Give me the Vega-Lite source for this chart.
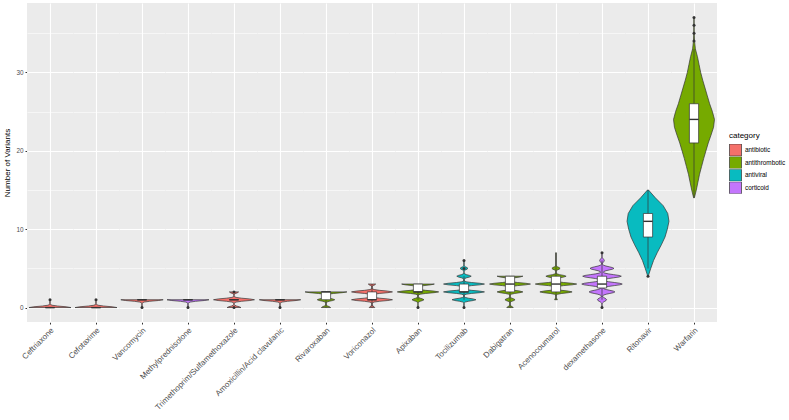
{
  "$schema": "https://vega.github.io/schema/vega-lite/v6.json",
  "padding": {"left": 3, "top": 3, "right": 0, "bottom": 0},
  "background": "white",
  "config": {
    "font": "Liberation Sans",
    "view": {"stroke": null, "fill": "#EBEBEB"}
  },
  "data": {
    "values": [
      {"drug": "Ceftriaxone", "category": "antibiotic", "lo": 0, "q1": 0, "med": 0, "q3": 0, "hi": 0, "out": [1],
       "v": [0, 0.1, 0.2, 0.3, 0.4, 0.5, 0.8, 0.9, 1],
       "w": [0.456, 0.353, 0.164, 0.046, 0.01, 0.004, 0.005, 0.008, 0.01]},
      {"drug": "Cefotaxime", "category": "antibiotic", "lo": 0, "q1": 0, "med": 0, "q3": 0, "hi": 0, "out": [1],
       "v": [0, 0.1, 0.2, 0.3, 0.4, 0.5, 0.8, 0.9, 1],
       "w": [0.456, 0.353, 0.164, 0.046, 0.01, 0.004, 0.005, 0.008, 0.01]},
      {"drug": "Vancomycin", "category": "antibiotic", "lo": 1, "q1": 1, "med": 1, "q3": 1, "hi": 1, "out": [0],
       "v": [0, 0.1, 0.2, 0.5, 0.6, 0.7, 0.8, 0.9, 1],
       "w": [0.01, 0.008, 0.005, 0.004, 0.01, 0.046, 0.166, 0.357, 0.46]},
      {"drug": "Methylprednisolone", "category": "corticoid", "lo": 1, "q1": 1, "med": 1, "q3": 1, "hi": 1, "out": [0],
       "v": [0, 0.1, 0.2, 0.5, 0.6, 0.7, 0.8, 0.9, 1],
       "w": [0.01, 0.008, 0.005, 0.004, 0.01, 0.046, 0.164, 0.353, 0.456]},
      {"drug": "Trimethoprim/Sulfamethoxazole", "category": "antibiotic", "lo": 1, "q1": 1, "med": 1, "q3": 1, "hi": 1, "out": [0, 2],
       "v": [0, 0.1, 0.2, 0.3, 0.4, 0.5, 0.6, 0.7, 0.8, 0.9, 1, 1.1, 1.2, 1.3, 1.4, 1.5, 1.6, 1.7, 1.8, 1.9, 2],
       "w": [0.15, 0.116, 0.054, 0.015, 0.004, 0.004, 0.008, 0.045, 0.16, 0.345, 0.445, 0.345, 0.16, 0.045, 0.008, 0.004, 0.004, 0.01, 0.036, 0.078, 0.1]},
      {"drug": "Amoxicillin/Acid clavulanic", "category": "antibiotic", "lo": 1, "q1": 1, "med": 1, "q3": 1, "hi": 1, "out": [0],
       "v": [0, 0.1, 0.2, 0.5, 0.6, 0.7, 0.8, 0.9, 1],
       "w": [0.01, 0.008, 0.005, 0.004, 0.008, 0.045, 0.162, 0.349, 0.45]},
      {"drug": "Rivaroxaban", "category": "antithrombotic", "lo": 0, "q1": 1, "med": 2, "q3": 2, "hi": 2, "out": [],
       "v": [0, 0.1, 0.2, 0.3, 0.4, 0.5, 0.6, 0.7, 0.8, 0.9, 1, 1.1, 1.2, 1.3, 1.4, 1.5, 1.6, 1.7, 1.8, 1.9, 2],
       "w": [0.1, 0.078, 0.036, 0.01, 0.005, 0.004, 0.005, 0.019, 0.068, 0.147, 0.19, 0.147, 0.068, 0.019, 0.005, 0.004, 0.01, 0.046, 0.164, 0.353, 0.455]},
      {"drug": "Voriconazol", "category": "antibiotic", "lo": 0, "q1": 1, "med": 1, "q3": 2, "hi": 3, "out": [],
       "v": [0, 0.1, 0.2, 0.3, 0.4, 0.5, 0.6, 0.7, 0.8, 0.9, 1, 1.1, 1.2, 1.3, 1.4, 1.5, 1.6, 1.7, 1.8, 1.9, 2, 2.1, 2.2, 2.3, 2.4, 2.5, 2.6, 2.7, 2.8, 2.9, 3],
       "w": [0.06, 0.047, 0.022, 0.006, 0.004, 0.004, 0.008, 0.045, 0.16, 0.345, 0.445, 0.345, 0.16, 0.045, 0.008, 0.004, 0.008, 0.045, 0.16, 0.345, 0.445, 0.345, 0.16, 0.045, 0.008, 0.004, 0.004, 0.008, 0.029, 0.062, 0.08]},
      {"drug": "Apixaban", "category": "antithrombotic", "lo": 1, "q1": 2, "med": 2, "q3": 3, "hi": 3, "out": [0],
       "v": [0, 0.1, 0.2, 0.3, 0.4, 0.5, 0.6, 0.7, 0.8, 0.9, 1, 1.1, 1.2, 1.3, 1.4, 1.5, 1.6, 1.7, 1.8, 1.9, 2, 2.1, 2.2, 2.3, 2.4, 2.5, 2.6, 2.7, 2.8, 2.9, 3],
       "w": [0.015, 0.012, 0.006, 0.004, 0.004, 0.004, 0.004, 0.013, 0.047, 0.101, 0.13, 0.101, 0.047, 0.013, 0.004, 0.004, 0.008, 0.045, 0.162, 0.349, 0.45, 0.349, 0.162, 0.045, 0.01, 0.004, 0.008, 0.036, 0.128, 0.275, 0.355]},
      {"drug": "Tocilizumab", "category": "antiviral", "lo": 1, "q1": 2, "med": 2, "q3": 3, "hi": 4, "out": [0, 5, 6],
       "v": [0, 0.1, 0.2, 0.5, 0.6, 0.7, 0.8, 0.9, 1, 1.1, 1.2, 1.3, 1.4, 1.5, 1.6, 1.7, 1.8, 1.9, 2, 2.1, 2.2, 2.3, 2.4, 2.5, 2.6, 2.7, 2.8, 2.9, 3, 3.1, 3.2, 3.3, 3.4, 3.5, 3.6, 3.7, 3.8, 3.9, 4, 4.1, 4.2, 4.3, 4.4, 4.5, 4.6, 4.7, 4.8, 4.9, 5, 5.1, 5.2, 5.3, 5.4, 5.8, 5.9, 6],
       "w": [0.01, 0.008, 0.004, 0.004, 0.005, 0.026, 0.094, 0.202, 0.26, 0.202, 0.094, 0.026, 0.005, 0.004, 0.008, 0.045, 0.16, 0.345, 0.445, 0.345, 0.16, 0.045, 0.008, 0.004, 0.008, 0.045, 0.16, 0.345, 0.445, 0.345, 0.16, 0.045, 0.008, 0.004, 0.004, 0.016, 0.057, 0.122, 0.157, 0.122, 0.057, 0.016, 0.004, 0.004, 0.004, 0.009, 0.031, 0.066, 0.085, 0.066, 0.031, 0.009, 0.004, 0.005, 0.008, 0.01]},
      {"drug": "Dabigatran", "category": "antithrombotic", "lo": 0, "q1": 2, "med": 3, "q3": 4, "hi": 4, "out": [],
       "v": [0, 0.1, 0.2, 0.3, 0.4, 0.5, 0.6, 0.7, 0.8, 0.9, 1, 1.1, 1.2, 1.3, 1.4, 1.5, 1.6, 1.7, 1.8, 1.9, 2, 2.1, 2.2, 2.3, 2.4, 2.5, 2.6, 2.7, 2.8, 2.9, 3, 3.1, 3.2, 3.3, 3.4, 3.5, 3.6, 3.7, 3.8, 3.9, 4],
       "w": [0.07, 0.054, 0.025, 0.007, 0.004, 0.004, 0.004, 0.011, 0.04, 0.085, 0.11, 0.085, 0.04, 0.011, 0.004, 0.004, 0.005, 0.028, 0.101, 0.217, 0.28, 0.217, 0.101, 0.028, 0.006, 0.004, 0.008, 0.045, 0.16, 0.345, 0.445, 0.345, 0.16, 0.045, 0.008, 0.004, 0.005, 0.028, 0.101, 0.217, 0.28]},
      {"drug": "Acenocoumarol", "category": "antithrombotic", "lo": 1, "q1": 2, "med": 3, "q3": 4, "hi": 7, "out": [],
       "v": [1, 1.1, 1.2, 1.3, 1.4, 1.5, 1.6, 1.7, 1.8, 1.9, 2, 2.1, 2.2, 2.3, 2.4, 2.5, 2.6, 2.7, 2.8, 2.9, 3, 3.1, 3.2, 3.3, 3.4, 3.5, 3.6, 3.7, 3.8, 3.9, 4, 4.1, 4.2, 4.3, 4.4, 4.5, 4.6, 4.7, 4.8, 4.9, 5, 5.1, 5.2, 5.3, 5.4, 7],
       "w": [0.03, 0.023, 0.011, 0.004, 0.004, 0.004, 0.006, 0.035, 0.126, 0.271, 0.35, 0.271, 0.126, 0.035, 0.008, 0.004, 0.008, 0.045, 0.162, 0.349, 0.45, 0.349, 0.162, 0.045, 0.008, 0.004, 0.004, 0.022, 0.079, 0.171, 0.22, 0.171, 0.079, 0.022, 0.004, 0.004, 0.004, 0.009, 0.032, 0.07, 0.09, 0.07, 0.032, 0.009, 0.004, 0.004]},
      {"drug": "dexamethasone", "category": "corticoid", "lo": 1, "q1": 2.5, "med": 3, "q3": 4, "hi": 6, "out": [0, 7],
       "v": [0, 0.1, 0.2, 0.3, 0.4, 0.5, 0.6, 0.7, 0.8, 0.9, 1, 1.1, 1.2, 1.3, 1.4, 1.5, 1.6, 1.7, 1.8, 1.9, 2, 2.1, 2.2, 2.3, 2.4, 2.5, 2.6, 2.7, 2.8, 2.9, 3, 3.1, 3.2, 3.3, 3.4, 3.5, 3.6, 3.7, 3.8, 3.9, 4, 4.1, 4.2, 4.3, 4.4, 4.5, 4.6, 4.7, 4.8, 4.9, 5, 5.1, 5.2, 5.3, 5.4, 5.5, 5.6, 5.7, 5.8, 5.9, 6, 6.1, 6.2, 6.3, 6.4, 6.5, 6.6, 6.7, 6.8, 6.9, 7],
       "w": [0.01, 0.009, 0.006, 0.004, 0.004, 0.005, 0.014, 0.033, 0.061, 0.088, 0.1, 0.088, 0.061, 0.033, 0.017, 0.017, 0.039, 0.091, 0.17, 0.247, 0.28, 0.247, 0.17, 0.092, 0.043, 0.032, 0.062, 0.144, 0.267, 0.388, 0.44, 0.388, 0.267, 0.144, 0.064, 0.038, 0.062, 0.138, 0.255, 0.37, 0.42, 0.37, 0.255, 0.137, 0.06, 0.03, 0.04, 0.085, 0.158, 0.229, 0.26, 0.229, 0.158, 0.085, 0.036, 0.014, 0.01, 0.017, 0.03, 0.044, 0.05, 0.044, 0.03, 0.016, 0.007, 0.004, 0.004, 0.004, 0.006, 0.009, 0.01]},
      {"drug": "Ritonavir", "category": "antiviral", "lo": 5, "q1": 9, "med": 11, "q3": 12, "hi": 15, "out": [4],
       "v": [4, 5, 6, 7, 8, 9, 10, 11, 12, 13, 14, 15],
       "w": [0.005, 0.06, 0.12, 0.2, 0.29, 0.37, 0.42, 0.456, 0.43, 0.33, 0.16, 0.01]},
      {"drug": "Warfarin", "category": "antithrombotic", "lo": 14, "q1": 21, "med": 24, "q3": 26, "hi": 33, "out": [34, 35, 36, 37],
       "v": [14, 15, 16, 17, 18, 19, 20, 21, 22, 23, 24, 25, 26, 27, 28, 29, 30, 31, 32, 33, 34, 35, 36, 37],
       "w": [0.008, 0.05, 0.085, 0.12, 0.165, 0.21, 0.26, 0.31, 0.37, 0.425, 0.445, 0.4, 0.34, 0.29, 0.24, 0.19, 0.145, 0.11, 0.075, 0.03, 0.012, 0.006, 0.004, 0.004]}
    ]
  },
  "facet": {
    "column": {
      "field": "drug", "type": "nominal", "title": null,
      "sort": ["Ceftriaxone", "Cefotaxime", "Vancomycin", "Methylprednisolone", "Trimethoprim/Sulfamethoxazole",
               "Amoxicillin/Acid clavulanic", "Rivaroxaban", "Voriconazol", "Apixaban", "Tocilizumab",
               "Dabigatran", "Acenocoumarol", "dexamethasone", "Ritonavir", "Warfarin"],
      "header": {
        "labelOrient": "bottom", "labelAngle": -45, "labelAlign": "right", "labelBaseline": "top",
        "labelFont": "Liberation Sans", "labelFontSize": 8, "labelColor": "#4D4D4D", "labelPadding": 2
      }
    }
  },
  "spacing": 0,
  "spec": {
    "width": 46,
    "height": 319,
    "layer": [
      {
        "transform": [{"flatten": ["v", "w"]}, {"calculate": "-datum.w", "as": "wl"}],
        "mark": {"type": "area", "orient": "horizontal", "stroke": "#333333", "strokeWidth": 0.7, "strokeJoin": "round"},
        "encoding": {
          "y": {
            "field": "v", "type": "quantitative", "title": "Number of Variants",
            "scale": {"domain": [-1.84, 38.85], "nice": false, "zero": false},
            "axis": {
              "values": [0, 5, 10, 15, 20, 25, 30, 35],
              "labelExpr": "datum.value % 10 === 0 ? datum.label : ''",
              "gridColor": "#FFFFFF",
              "gridWidth": {"condition": {"test": "datum.value % 10 === 0", "value": 1.1}, "value": 0.55},
              "tickOpacity": {"condition": {"test": "datum.value % 10 === 0", "value": 1}, "value": 0},
              "tickColor": "#333333", "tickSize": 2, "labelPadding": 2,
              "labelFontSize": 6.4, "labelColor": "#4D4D4D", "domain": false,
              "titleFontSize": 8, "titleFontWeight": "normal", "titleColor": "#000000", "titlePadding": 4
            }
          },
          "x": {
            "field": "wl", "type": "quantitative", "title": null, "stack": null,
            "scale": {"domain": [-0.5, 0.5], "nice": false, "zero": false},
            "axis": {
              "values": [0], "grid": true, "gridColor": "#FFFFFF", "gridWidth": 1.1,
              "labels": false, "domain": false, "ticks": true, "tickSize": 2, "tickColor": "#333333"
            }
          },
          "x2": {"field": "w"},
          "fill": {
            "field": "category", "type": "nominal",
            "scale": {"domain": ["antibiotic", "antithrombotic", "antiviral", "corticoid"],
                      "range": ["#F5706A", "#76AA00", "#08BBC0", "#C476FD"]},
            "legend": {
              "title": "category", "orient": "none", "legendX": 702, "legendY": 129,
              "symbolType": "square", "symbolSize": 144, "symbolStrokeColor": "#333333", "symbolStrokeWidth": 0.7,
              "symbolOpacity": 1, "symbolFillOpacity": 1, "clipHeight": 12,
              "labelFontSize": 6.4, "labelColor": "#000000", "labelOffset": 3, "labelLimit": 80,
              "titleFontSize": 8, "titleFontWeight": "normal",
              "titleColor": "#000000", "titlePadding": 4, "rowPadding": 0.6
            }
          }
        }
      },
      {
        "mark": {"type": "rule", "color": "#333333", "strokeWidth": 0.7},
        "encoding": {
          "x": {"datum": 0, "type": "quantitative", "title": null, "scale": {"domain": [-0.5, 0.5], "nice": false, "zero": false}},
          "y": {"field": "lo", "type": "quantitative", "title": "Number of Variants", "scale": {"domain": [-1.84, 38.85], "nice": false, "zero": false}},
          "y2": {"field": "hi"}
        }
      },
      {
        "mark": {"type": "rect", "fill": "#FFFFFF", "stroke": "#333333", "strokeWidth": 0.7},
        "encoding": {
          "x": {"datum": -0.1, "type": "quantitative", "title": null, "scale": {"domain": [-0.5, 0.5], "nice": false, "zero": false}},
          "x2": {"datum": 0.1},
          "y": {"field": "q1", "type": "quantitative", "title": "Number of Variants", "scale": {"domain": [-1.84, 38.85], "nice": false, "zero": false}},
          "y2": {"field": "q3"}
        }
      },
      {
        "mark": {"type": "rule", "color": "#333333", "strokeWidth": 1.4},
        "encoding": {
          "x": {"datum": -0.1, "type": "quantitative", "title": null, "scale": {"domain": [-0.5, 0.5], "nice": false, "zero": false}},
          "x2": {"datum": 0.1},
          "y": {"field": "med", "type": "quantitative", "title": "Number of Variants", "scale": {"domain": [-1.84, 38.85], "nice": false, "zero": false}}
        }
      },
      {
        "transform": [{"flatten": ["out"]}],
        "mark": {"type": "circle", "color": "#333333", "opacity": 1, "size": 9},
        "encoding": {
          "x": {"datum": 0, "type": "quantitative", "title": null, "scale": {"domain": [-0.5, 0.5], "nice": false, "zero": false}},
          "y": {"field": "out", "type": "quantitative", "title": "Number of Variants", "scale": {"domain": [-1.84, 38.85], "nice": false, "zero": false}}
        }
      }
    ]
  }
}
